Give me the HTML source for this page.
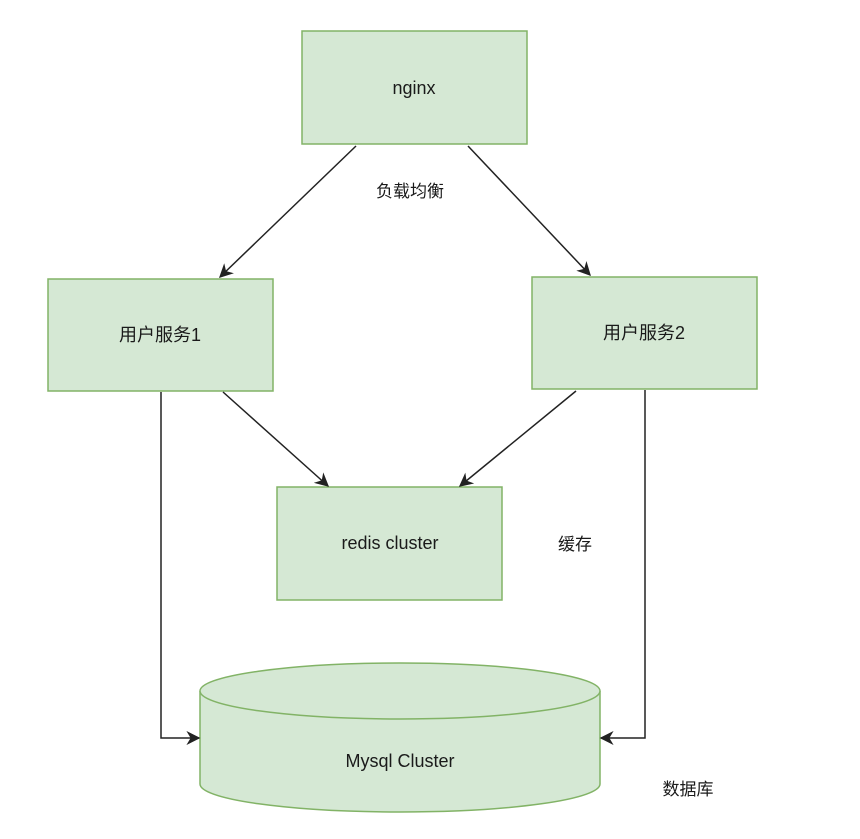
<!DOCTYPE html>
<html><head><meta charset="utf-8"><style>
body{margin:0;background:#fff;}
svg text{font-family:"Liberation Sans","Noto Sans CJK SC",sans-serif;font-size:18px;fill:#1a1a1a;}
</style></head><body>
<svg width="860" height="834" xmlns="http://www.w3.org/2000/svg">
<defs>
<marker id="b" viewBox="0 0 10 10" refX="9" refY="5" markerWidth="14" markerHeight="14" orient="auto" markerUnits="userSpaceOnUse"><path d="M0,0 L10,5 L0,10 L3,5 z" fill="#222"/></marker></defs>
<g fill="#d5e8d4" stroke="#82b366" stroke-width="1.5">
<rect x="302" y="31" width="225" height="113"/>
<rect x="48" y="279" width="225" height="112"/>
<rect x="532" y="277" width="225" height="112"/>
<rect x="277" y="487" width="225" height="113"/>
<path d="M200,691 L200,784 A200,28 0 0 0 600,784 L600,691"/>
<ellipse cx="400" cy="691" rx="200" ry="28"/>
</g>
<g stroke="#222" stroke-width="1.5" fill="none">
<line x1="356" y1="146" x2="220" y2="277" marker-end="url(#b)"/>
<line x1="468" y1="146" x2="590" y2="275" marker-end="url(#b)"/>
<line x1="223" y1="392" x2="328" y2="486" marker-end="url(#b)"/>
<line x1="576" y1="391" x2="460" y2="486" marker-end="url(#b)"/>
<polyline points="161,392 161,738 199,738" marker-end="url(#b)"/>
<polyline points="645,390 645,738 601,738" marker-end="url(#b)"/>
</g>
<g text-anchor="middle">
<text x="414" y="94">nginx</text>
<text x="160" y="341">用户服务1</text>
<text x="644" y="339">用户服务2</text>
<text x="390" y="549">redis cluster</text>
<text x="400" y="767">Mysql Cluster</text>
<text x="410" y="197" style="font-size:17px">负载均衡</text>
<text x="575" y="550" style="font-size:17px">缓存</text>
<text x="688" y="795" style="font-size:17px">数据库</text>
</g>
</svg>
</body></html>
